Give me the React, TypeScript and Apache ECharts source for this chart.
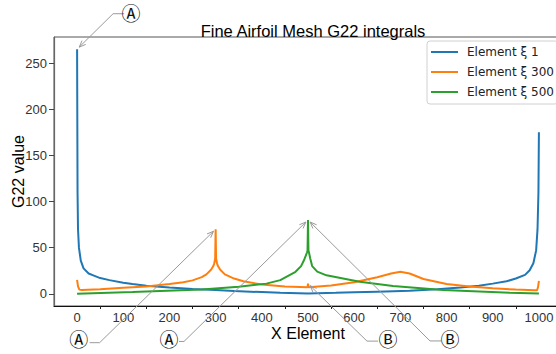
import React, { useEffect, useRef } from "react";
import * as echarts from "echarts";

// Element ξ 1 — singular at both ends of the airfoil mesh
const elem1X = [0, 1, 2, 4, 8, 14, 25, 35, 50, 70, 100, 120, 150, 200, 250, 300, 340, 400, 440, 500, 560, 600, 650, 720, 780, 830, 870, 900, 930, 950, 970, 980, 988, 994, 997, 999, 1000];
const elem1Y = [265, 110, 70, 50, 36, 27.5, 22, 20, 17, 14.8, 12, 10.5, 8.8, 6.8, 5.1, 4, 2.9, 1.8, 1.1, 0.3, 1, 1.6, 2.3, 3.2, 4.8, 6.9, 8.8, 11, 13.5, 16.5, 20.5, 25.5, 33, 47, 70, 110, 175];

// Element ξ 300 — spike at 300, small kink at 500, bump near 700
const elem300X = [0, 2, 5, 10, 50, 100, 150, 200, 230, 250, 270, 280, 290, 295, 297, 299, 300, 301, 303, 305, 310, 320, 340, 360, 400, 450, 499, 500, 501, 550, 600, 650, 680, 700, 720, 750, 800, 850, 900, 950, 990, 996, 998, 1000];
const elem300Y = [15, 8, 4.5, 4, 4.8, 6.5, 8, 10.5, 12.5, 14.5, 18, 21, 26, 30, 33, 38, 70, 38, 33, 30, 26, 21, 16.5, 13.5, 10, 8, 7.2, 11, 7.2, 9, 12.5, 18, 22, 23.8, 22, 16, 10.5, 8, 6, 4.5, 3.8, 3.8, 7, 14];

// Element ξ 500 — spike at mid-chord
const elem500X = [0, 120, 270, 350, 410, 440, 473, 485, 491, 495, 498, 499, 500, 501, 502, 505, 509, 520, 540, 612, 684, 792, 937, 1000];
const elem500Y = [0, 1.8, 4.7, 7.5, 11, 14.8, 23.8, 30, 36, 41, 45, 47, 80, 47, 45, 38, 30, 24, 20, 13, 8.3, 4, 1.1, 0.3];

const seriesNames = ["Element ξ 1", "Element ξ 300", "Element ξ 500"];
const seriesColors = ["#1f77b4", "#ff7f0e", "#2ca02c"];

const xTickLabels = [0, 100, 200, 300, 400, 500, 600, 700, 800, 900, 1000];
const xMinorTicks = [50, 150, 250, 350, 450, 550, 650, 750, 850, 950];
const yTickLabels = [0, 50, 100, 150, 200, 250];

const pairs = (xs: number[], ys: number[]) => xs.map((x, i) => [x, ys[i]]);

const SANS = "'Liberation Sans', Arial, sans-serif";
const CIRCLED = "'DejaVu Sans', 'Noto Sans CJK JP', sans-serif";
const ARROW = "#9a9a9a";

export default function App() {
  const ref = useRef<HTMLDivElement>(null);

  useEffect(() => {
    if (!ref.current) return;
    const chart = echarts.init(ref.current, null, { renderer: "svg" });

    const option: any = {
      animation: false,
      backgroundColor: "#ffffff",
      title: {
        text: "Fine Airfoil Mesh G22 integrals",
        left: 308,
        textAlign: "center",
        top: 17,
        textStyle: { fontFamily: SANS, fontSize: 16.5, fontWeight: "normal", color: "#000" },
      },
      grid: {
        left: 54,
        top: 37,
        width: 508,
        height: 269,
        containLabel: false,
        outerBoundsMode: "none",
        show: true,
        borderColor: "#555",
        borderWidth: 1,
        backgroundColor: "transparent",
      },
      legend: {
        orient: "vertical",
        left: 427,
        top: 41,
        icon: "rect",
        itemWidth: 27,
        itemHeight: 2,
        itemGap: 6,
        padding: [4, 4, 5, 4],
        borderColor: "#d0d0d0",
        borderWidth: 1,
        borderRadius: 3,
        backgroundColor: "#ffffff",
        textStyle: { fontFamily: "'DejaVu Sans', sans-serif", fontSize: 12, color: "#222", lineHeight: 14, padding: [0, 0, 0, 4] },
        data: seriesNames,
      },
      xAxis: [
        {
          type: "value",
          min: -50,
          max: 1050,
          name: "X Element",
          nameLocation: "middle",
          nameGap: 19,
          nameMoveOverlap: false,
          nameTextStyle: { fontFamily: SANS, fontSize: 16, color: "#000" },
          axisLine: { show: true, onZero: false, lineStyle: { color: "#111", width: 1.2 } },
          axisTick: { show: true, customValues: xMinorTicks, length: 3, lineStyle: { color: "#222" } },
          axisLabel: {
            customValues: xTickLabels,
            margin: 5,
            fontFamily: SANS,
            fontSize: 13,
            color: "#333",
            formatter: (v: number) => String(v),
          },
          splitLine: { show: false },
        },
      ],
      yAxis: {
        type: "value",
        min: -13.25,
        max: 278.25,
        name: "G22 value",
        nameLocation: "middle",
        nameGap: 28,
        nameMoveOverlap: false,
        nameTextStyle: { fontFamily: SANS, fontSize: 16, color: "#000" },
        axisLine: { show: true, onZero: false, lineStyle: { color: "#666", width: 1.2 } },
        axisTick: { show: true, customValues: yTickLabels, length: 5, lineStyle: { color: "#444" } },
        axisLabel: {
          customValues: yTickLabels,
          margin: 7,
          fontFamily: SANS,
          fontSize: 13,
          color: "#333",
          formatter: (v: number) => String(v),
        },
        splitLine: { show: false },
      },
      series: [
        [elem1X, elem1Y],
        [elem300X, elem300Y],
        [elem500X, elem500Y],
      ].map(([xs, ys], i) => ({
        name: seriesNames[i],
        type: "line",
        data: pairs(xs, ys),
        showSymbol: false,
        color: seriesColors[i],
        lineStyle: { width: 2, color: seriesColors[i] },
        clip: true,
      })),
    };
    chart.setOption(option);

    // Callouts: circled letter, short horizontal leader, then an arrow to the data point
    const callouts = [
      { label: "Ⓐ", target: [elem1X[0], elem1Y[0]], dx: 54, dy: -35, lead: -7, elbow: -18, ly: -0.5 },
      { label: "Ⓐ", target: [300, elem300Y[elem300X.indexOf(300)]], dx: -137, dy: 111, lead: 11, elbow: 21, ly: 2.5 },
      { label: "Ⓐ", target: [500, elem500Y[elem500X.indexOf(500)]], dx: -139, dy: 120, lead: 10, elbow: 15, ly: 1.5 },
      { label: "Ⓑ", target: [500, elem300Y[elem300X.indexOf(500)]], dx: 80, dy: 56.5, lead: -10, elbow: -21, ly: 1 },
      { label: "Ⓑ", target: [500, elem500Y[elem500X.indexOf(500)]], dx: 142, dy: 120, lead: -9, elbow: -20, ly: 1 },
    ];

    const graphics: any[] = [];
    callouts.forEach((c) => {
      const [px, py] = chart.convertToPixel({ xAxisIndex: 0, yAxisIndex: 0 }, c.target) as number[];
      const tx = px + c.dx;
      const ty = py + c.dy;
      const sx = tx + c.lead;
      const ex = tx + c.elbow;
      const ly = ty + c.ly;
      // tip stops a little short of the point
      const vx = px - ex;
      const vy = py - ly;
      const len = Math.hypot(vx, vy);
      const ux = vx / len;
      const uy = vy / len;
      const tipX = px - ux * 3;
      const tipY = py - uy * 3;
      const head = 7;
      const ang = (22 * Math.PI) / 180;
      const rot = (a: number) => [
        tipX - head * (ux * Math.cos(a) - uy * Math.sin(a)),
        tipY - head * (uy * Math.cos(a) + ux * Math.sin(a)),
      ];
      graphics.push({
        type: "polyline",
        silent: true,
        shape: { points: [[sx, ly], [ex, ly], [tipX, tipY]] },
        style: { stroke: ARROW, lineWidth: 1, fill: null },
        z: 10,
      });
      graphics.push({
        type: "polyline",
        silent: true,
        shape: { points: [rot(ang), [tipX, tipY], rot(-ang)] },
        style: { stroke: ARROW, lineWidth: 1, fill: null },
        z: 10,
      });
      graphics.push({
        type: "text",
        silent: true,
        x: tx,
        y: ty,
        style: {
          text: c.label,
          fontFamily: CIRCLED,
          fontSize: 19,
          fill: "#111",
          align: "center",
          verticalAlign: "middle",
        },
        z: 11,
      });
    });
    chart.setOption({ graphic: graphics });

    return () => chart.dispose();
  }, []);

  return (
    <div
      ref={ref}
      style={{ position: "fixed", left: 0, top: 0, width: 556, height: 354, background: "#fff" }}
    />
  );
}
